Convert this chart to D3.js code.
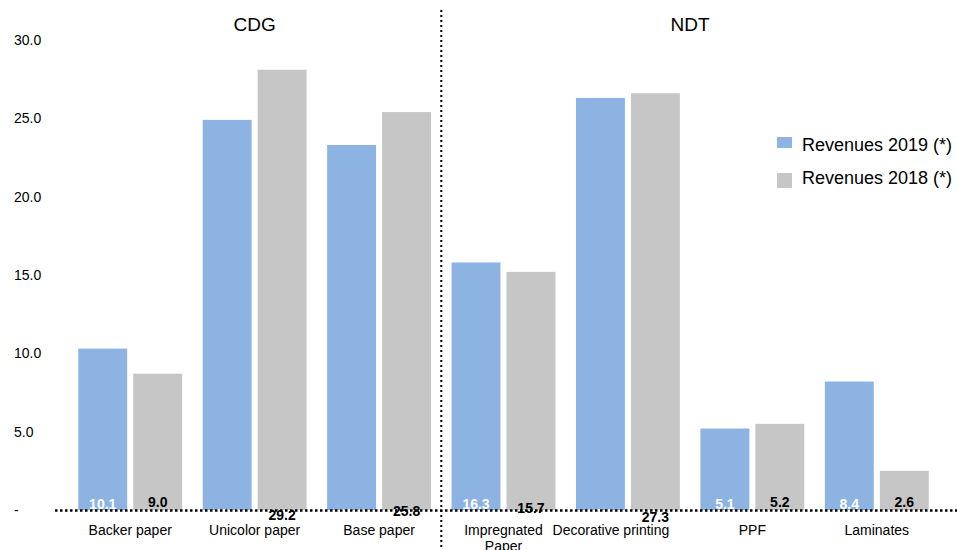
<!DOCTYPE html>
<html>
<head>
<meta charset="utf-8">
<script src="https://cdn.jsdelivr.net/npm/d3@7"></script>
<style>
  body { margin: 0; background: #fff; }
  svg { font-family: "Liberation Sans", Arial, sans-serif; display: block; }
</style>
</head>
<body>
<svg id="chart" width="957" height="550"></svg>
<script>
// categories and series
var categories = ['Backer paper', 'Unicolor paper', 'Base paper', 'Impregnated Paper',
                  'Decorative printing', 'PPF', 'Laminates'];
var series = ['Revenues 2019 (*)', 'Revenues 2018 (*)'];
// bar heights as drawn
var rev2019 = [10.3, 24.9, 23.3, 15.8, 26.3, 5.2, 8.2];
var rev2018 = [8.7, 28.1, 25.4, 15.2, 26.6, 5.5, 2.5];
// data labels as printed
var lab2019 = ['10.1', '25.0', '23.2', '16.3', '26.3', '5.1', '8.4'];
var lab2018 = ['9.0', '29.2', '25.8', '15.7', '27.3', '5.2', '2.6'];
var yTicks = [0, 5, 10, 15, 20, 25, 30];
var groups = [{ name: 'CDG', from: 0, to: 2 }, { name: 'NDT', from: 3, to: 6 }];

var colors = ['#8db3e2', '#c6c6c6'];
var svg = d3.select('#chart');

var x0 = d3.scaleBand().domain(categories).range([68, 939])
    .paddingInner(0.165).paddingOuter(0.0825);
var x1 = d3.scaleBand().domain([0, 1]).range([0, x0.bandwidth()]).paddingInner(0.11);
var y = d3.scaleLinear().domain([0, 30]).range([510, 40]);

// y tick labels, left aligned
svg.append('g').selectAll('text').data(yTicks).enter().append('text')
    .attr('x', 14)
    .attr('y', function(d) { return y(d); })
    .attr('dy', '0.35em')
    .attr('font-size', 14)
    .attr('fill', '#000')
    .text(function(d) { return d === 0 ? '-' : d.toFixed(1); });

// bars
var rows = categories.map(function(c, i) {
  return { cat: c, vals: [rev2019[i], rev2018[i]], labs: [lab2019[i], lab2018[i]] };
});

var g = svg.append('g').selectAll('g.cat').data(rows).enter().append('g')
    .attr('class', 'cat')
    .attr('transform', function(d) { return 'translate(' + x0(d.cat) + ',0)'; });

g.selectAll('rect').data(function(d) { return d.vals; }).enter().append('rect')
    .attr('x', function(d, i) { return x1(i); })
    .attr('y', function(d) { return y(d); })
    .attr('width', x1.bandwidth())
    .attr('height', function(d) { return y(0) - y(d); })
    .attr('fill', function(d, i) { return colors[i]; });

// labels sit at the base; some 2018 ones spill under the axis
var nudge2018 = { 'Unicolor paper': 13, 'Base paper': 9, 'Impregnated Paper': 6, 'Decorative printing': 15 };
var nudge2019 = { 'Unicolor paper': 10, 'Base paper': 10, 'Decorative printing': 10 };

g.each(function(d) {
  var sel = d3.select(this);
  [0, 1].forEach(function(i) {
    var nudge = i === 0 ? (nudge2019[d.cat] || 0) : (nudge2018[d.cat] || 0);
    sel.append('text')
      .attr('x', x1(i) + x1.bandwidth() / 2)
      .attr('y', (i === 0 ? 509 : 507) + nudge)
      .attr('text-anchor', 'middle')
      .attr('font-size', 14)
      .attr('font-weight', 'bold')
      .attr('fill', i === 0 ? '#fff' : '#000')
      .text(d.labs[i]);
  });
});

// baseline and divider
svg.append('line')
    .attr('x1', 55).attr('x2', 957)
    .attr('y1', y(0) + 0.5).attr('y2', y(0) + 0.5)
    .attr('stroke', '#000').attr('stroke-width', 2.5)
    .attr('stroke-dasharray', '2.5,2.5');

var divX = (x0(categories[2]) + x0.bandwidth() + x0(categories[3])) / 2;
svg.append('line')
    .attr('x1', divX).attr('x2', divX)
    .attr('y1', 10).attr('y2', 550)
    .attr('stroke', '#000').attr('stroke-width', 2)
    .attr('stroke-dasharray', '2,3');

// category labels, wrapped when too wide
var catShift = { 'Decorative printing': -17 };
svg.append('g').selectAll('text').data(categories).enter().append('text')
    .attr('y', 535)
    .attr('text-anchor', 'middle')
    .attr('font-size', 14)
    .attr('fill', '#000')
    .each(function(d) {
      var t = d3.select(this);
      var cx = x0(d) + x0.bandwidth() / 2 + (catShift[d] || 0);
      var words = d === 'Impregnated Paper' ? ['Impregnated', 'Paper'] : [d];
      words.forEach(function(w, k) {
        t.append('tspan').attr('x', cx)
          .attr('dy', k === 0 ? 0 : 16).text(w);
      });
    });

// group titles
svg.append('g').selectAll('text').data(groups).enter().append('text')
    .attr('x', function(d) {
      return (x0(categories[d.from]) + x0(categories[d.to]) + x0.bandwidth()) / 2;
    })
    .attr('y', 31)
    .attr('text-anchor', 'middle')
    .attr('font-size', 19)
    .attr('fill', '#000')
    .text(function(d) { return d.name; });

// legend
var leg = svg.append('g').selectAll('g').data(series).enter().append('g')
    .attr('transform', function(d, i) { return 'translate(777,' + (145 + i * 33) + ')'; });
leg.append('rect')
    .attr('y', function(d, i) { return i === 0 ? -8 : -5; })
    .attr('width', 15)
    .attr('height', function(d, i) { return i === 0 ? 11 : 15; })
    .attr('fill', function(d, i) { return colors[i]; });
leg.append('text').attr('x', 25).attr('dy', '0.35em')
    .attr('font-size', 18).attr('fill', '#000')
    .text(function(d) { return d; });
</script>
</body>
</html>
